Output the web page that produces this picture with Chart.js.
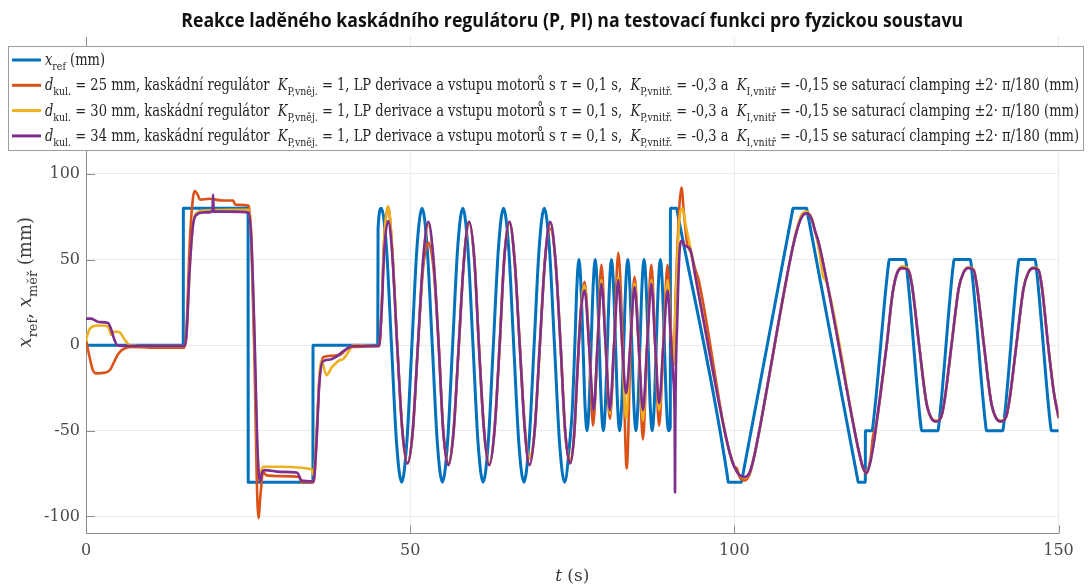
<!DOCTYPE html>
<html>
<head>
<meta charset="utf-8">
<script src="https://cdn.jsdelivr.net/npm/chart.js@4.4.1/dist/chart.umd.min.js"></script>
<style>
  html, body { margin: 0; padding: 0; background: #fff; }
  canvas { display: block; }
</style>
</head>
<body>
<canvas id="chart" width="1089" height="585"></canvas>
<script>
// ---- tick values ----
const timeTicks = [0, 50, 100, 150];
const posTicks = [-100, -50, 0, 50, 100, 150];

// ---- reference position x_ref [t (s), mm] ----
const xRef = [
  [0,0],[15.0,0],[15.02,80],[25.0,80],[25.02,-80],[35.0,-80],[35.02,0],[45.0,0],[45.05,68],
  [45.55,80],[46.34,57],[47.12,0],[47.9,-57],[48.69,-80],[49.48,-57],[50.27,0],[51.05,57],
  [51.84,80],[52.62,57],[53.41,0],[54.19,-57],[54.98,-80],[55.76,-57],[56.55,0],[57.33,57],
  [58.12,80],[58.9,57],[59.69,0],[60.47,-57],[61.26,-80],[62.04,-57],[62.83,0],[63.62,57],
  [64.4,80],[65.19,57],[65.97,0],[66.76,-57],[67.54,-80],[68.33,-57],[69.12,0],[69.9,57],
  [70.69,80],[71.47,57],[72.26,0],[73.04,-57],[73.83,-80],[74.61,-57],[75.0,-38],[75.4,0],
  [75.72,35],[76.03,50],[76.34,35],[76.66,0],[76.97,-35],[77.28,-50],[77.6,-35],[77.91,0],
  [78.23,35],[78.54,50],[78.85,35],[79.17,0],[79.48,-35],[79.8,-50],[80.11,-35],[80.42,0],
  [80.74,35],[81.05,50],[81.36,35],[81.68,0],[81.99,-35],[82.31,-50],[82.62,-35],[82.94,0],
  [83.25,35],[83.57,50],[83.88,35],[84.19,0],[84.51,-35],[84.82,-50],[85.13,-35],[85.45,0],
  [85.76,35],[86.08,50],[86.39,35],[86.71,0],[87.02,-35],[87.33,-50],[87.65,-35],[87.96,0],
  [88.28,35],[88.59,50],[88.9,35],[89.22,0],[89.53,-35],[89.85,-50],[90.12,-48],[90.15,80],
  [91.1,80],[91.2,78],[98.95,-77],[99.05,-80],[101.1,-80],[101.2,-78],[108.95,78],[109.05,80],
  [111.15,80],[111.25,78],[119.0,-78],[119.1,-80],[120.2,-80],[120.22,-50],[121.25,-50],
  [121.35,-48],[123.8,48],[123.9,50],[126.4,50],[126.5,48],[128.8,-48],[128.9,-50],[131.4,-50],
  [131.5,-48],[133.8,48],[133.9,50],[136.4,50],[136.5,48],[138.8,-48],[138.9,-50],[141.4,-50],
  [141.5,-48],[143.8,48],[143.9,50],[146.4,50],[146.5,48],[148.8,-48],[148.9,-50],[150,-50]
];

// ---- measured position, ball diameter 25 mm ----
const d25 = [
  [0,3],[0.5,-6],[1.0,-14],[1.5,-16.5],[3.0,-16],[3.7,-14.5],[4.3,-10],[5.0,-5],[5.7,-2.5],
  [6.9,-1],[10,-1.5],[15.2,-1.5],[15.5,10],[16.0,60],[16.5,86],[16.8,90],[17.2,88],[17.6,85],
  [19,85.5],[21,84.5],[22.7,84.5],[23.0,82],[25.1,81.5],[25.5,62],[26.0,-10],[26.3,-72],
  [26.6,-101],[26.9,-88],[27.3,-74],[27.8,-76],[30,-76.5],[33,-77],[33.2,-80],[35.1,-80],
  [35.5,-60],[36.0,-20],[36.6,-7],[38.9,-6],[40.0,-3],[40.8,-1],[45.2,-0.5],[45.6,22],
  [46.0,62],[46.6,81],[47.2,58],[48.0,0],[48.8,-50],[49.6,-69],[50.4,-50],[51.2,0],[52.0,45],
  [52.8,60],[53.6,45],[54.4,0],[55.1,-50],[55.9,-70],[56.7,-50],[57.5,0],[58.3,50],[59.1,72],
  [59.9,50],[60.6,0],[61.4,-50],[62.2,-70],[63.0,-50],[63.8,0],[64.5,50],[65.3,72],[66.1,50],
  [66.9,0],[67.7,-50],[68.4,-70],[69.2,-50],[70.0,0],[70.8,50],[71.6,68],[72.4,50],[73.2,0],
  [73.9,-50],[74.7,-69],[75.3,-52],[75.8,-15],[76.3,20],[76.9,37],[77.6,0],[78.2,-47],[78.9,0],
  [79.5,47],[80.15,0],[80.8,-43],[81.45,0],[82.1,54],[82.8,0],[83.4,-72],[84.0,0],[84.6,40],
  [85.25,0],[85.9,-55],[86.55,0],[87.2,47],[87.8,0],[88.4,-47],[89.05,0],[89.7,47],[90.2,10],
  [90.6,-12],[91.0,35],[91.5,80],[91.85,92],[92.2,78],[92.7,60],[93.3,54],[94.0,44],[94.5,38],
  [98.5,-50],[99.3,-63],[100.0,-71],[100.4,-72],[100.8,-77],[101.6,-79],[102.4,-75],[103.0,-66],
  [103.6,-55],[109.0,57],[109.8,69],[110.5,76],[111.2,77],[111.9,74],[112.5,66],[113.0,60],
  [118.5,-49],[119.2,-62],[119.8,-71],[120.4,-75],[121.0,-66],[121.4,-53],[121.8,-48],
  [122.3,-36],[123.5,0],[124.4,30],[125.1,42],[125.9,45],[126.8,44],[127.4,35],[128.5,0],
  [129.6,-33],[130.3,-42],[131.1,-44.5],[131.9,-42],[132.4,-33],[133.5,0],[134.6,33],[135.3,42],
  [136.1,45.5],[136.9,44],[137.4,35],[138.5,0],[139.6,-33],[140.3,-42],[141.1,-44.5],[141.9,-42],
  [142.4,-33],[143.5,0],[144.6,33],[145.3,42],[146.1,45],[146.9,44],[147.4,35],[148.4,0],
  [149.3,-28],[150,-42]
];

// ---- measured position, ball diameter 30 mm ----
const d30 = [
  [0,3],[0.5,9],[1.1,11],[2.0,11.5],[3.4,11],[3.9,6],[4.4,8],[5.2,7.5],[6.0,3],[6.8,0],
  [10,-0.5],[15.2,-0.5],[15.5,5],[16.0,45],[16.5,70],[17.0,77],[18.0,78.5],[22.0,79],[25.1,79],
  [25.5,62],[26.0,2],[26.4,-58],[26.8,-76],[27.3,-71],[30.0,-71],[34.8,-72.5],[35.1,-76],
  [35.5,-55],[36.0,-18],[36.3,-9],[37.1,-17.5],[37.9,-13],[39.0,-9],[39.7,-8],[40.8,-2],
  [41.2,0],[45.2,-0.5],[45.6,22],[46.0,62],[46.6,81],[47.2,58],[48.0,0],[48.8,-50],[49.6,-69],
  [50.4,-50],[51.2,0],[52.0,50],[52.8,70],[53.6,50],[54.4,0],[55.1,-50],[55.9,-69],[56.7,-50],
  [57.5,0],[58.3,50],[59.1,71],[59.9,50],[60.6,0],[61.4,-50],[62.2,-69],[63.0,-50],[63.8,0],
  [64.5,50],[65.3,71],[66.1,50],[66.9,0],[67.7,-48],[68.4,-66],[69.2,-50],[70.0,0],[70.8,50],
  [71.6,71],[72.4,50],[73.2,0],[73.9,-50],[74.7,-67],[75.3,-52],[75.8,-15],[76.3,18],[76.9,35],
  [77.6,0],[78.3,-38],[78.9,0],[79.5,38],[80.15,0],[80.8,-40],[81.45,0],[82.1,40],[82.7,0],
  [83.3,-43],[83.95,0],[84.6,36],[85.25,0],[85.9,-44],[86.55,0],[87.2,38],[87.8,0],[88.4,-38],
  [89.05,0],[89.7,38],[90.2,5],[90.6,-12],[91.0,30],[91.5,72],[92.0,80],[92.5,70],[93.2,57],
  [94.0,40],[98.5,-50],[99.3,-63],[100.0,-71],[100.8,-76],[101.6,-77.5],[102.4,-74],[103.0,-66],
  [103.6,-55],[109.0,57],[109.8,70],[110.5,77],[111.2,78],[111.9,74],[112.5,66],[113.0,57],
  [113.4,47],[113.7,40],[114.2,37],[118.5,-49],[119.2,-62],[119.8,-71],[120.4,-74],[121.0,-67],
  [121.6,-55],[122.2,-38],[123.5,0],[124.4,30],[125.1,42],[125.9,46],[126.8,44.5],[127.4,35],
  [128.5,0],[129.6,-33],[130.3,-42],[131.1,-44],[131.9,-42],[132.4,-33],[133.5,0],[134.6,33],
  [135.3,42],[136.1,45.5],[136.9,44],[137.4,35],[138.5,0],[139.6,-33],[140.3,-42],[141.1,-44],
  [141.9,-42],[142.4,-33],[143.5,0],[144.6,33],[145.3,42],[146.1,45.5],[146.9,44],[147.4,35],
  [148.4,0],[149.3,-28],[150,-42]
];

// ---- measured position, ball diameter 34 mm ----
const d34 = [
  [0,15.5],[0.8,15.5],[1.4,14.5],[2.0,13.5],[3.4,13],[3.9,9],[4.4,3],[4.8,0],[5.5,-0.5],
  [10,-0.5],[15.2,-0.5],[15.5,6],[16.0,45],[16.5,70],[17.0,76],[18.0,77.5],[19.5,78],[19.6,88],
  [19.7,78],[22,78],[25.1,77.5],[25.5,62],[26.0,5],[26.4,-55],[26.8,-79.5],[27.2,-74],[27.6,-73],
  [30,-74],[32.6,-74.5],[33.2,-79],[35.1,-79.5],[35.5,-60],[36.0,-22],[36.5,-9.5],[37.5,-8.5],
  [38.5,-7],[39.5,-4],[40.5,-1.5],[41.3,-0.5],[45.2,-0.5],[45.6,20],[46.0,55],[46.6,72.5],
  [47.2,55],[48.0,0],[48.8,-50],[49.6,-69],[50.4,-50],[51.2,0],[52.0,50],[52.8,72],[53.6,50],
  [54.4,0],[55.1,-50],[55.9,-70],[56.7,-50],[57.5,0],[58.3,50],[59.1,72],[59.9,50],[60.6,0],
  [61.4,-50],[62.2,-70],[63.0,-50],[63.8,0],[64.5,50],[65.3,72],[66.1,50],[66.9,0],[67.7,-50],
  [68.4,-70],[69.2,-50],[70.0,0],[70.8,50],[71.6,72],[72.4,50],[73.2,0],[73.9,-50],[74.7,-69],
  [75.3,-52],[75.8,-15],[76.3,18],[76.9,32],[77.6,0],[78.3,-38],[78.9,0],[79.5,36],[80.15,0],
  [80.8,-38],[81.45,0],[82.1,38],[82.7,0],[83.3,-28],[83.95,0],[84.6,34],[85.25,0],[85.9,-38],
  [86.55,0],[87.2,36],[87.8,0],[88.4,-34],[89.05,0],[89.7,32],[90.2,5],[90.6,-20],[90.8,-45],
  [90.85,-86],[90.9,-45],[91.2,15],[91.6,57],[91.9,61],[92.4,58],[93.2,56],[94.0,40],[98.5,-50],
  [99.3,-63],[100.0,-71],[100.8,-76],[101.6,-77],[102.4,-74],[103.0,-66],[103.6,-55],[109.0,57],
  [109.8,69],[110.5,75.5],[111.2,77],[111.9,74],[112.5,66],[113.0,60],[118.5,-49],[119.2,-62],
  [119.8,-71],[120.4,-74.5],[121.0,-68],[121.6,-55],[122.2,-38],[123.5,0],[124.4,30],[125.1,42],
  [125.9,45],[126.8,44],[127.4,35],[128.5,0],[129.6,-33],[130.3,-42],[131.1,-44.5],[131.9,-42],
  [132.4,-33],[133.5,0],[134.6,33],[135.3,42],[136.1,45],[136.9,44],[137.4,35],[138.5,0],
  [139.6,-33],[140.3,-42],[141.1,-44.5],[141.9,-42],[142.4,-33],[143.5,0],[144.6,33],[145.3,42],
  [146.1,45],[146.9,44],[147.4,35],[148.4,0],[149.3,-28],[150,-42]
];

// ---- styling ----
const SERIF = '"DejaVu Serif", "Liberation Serif", serif';
const TITLE_FONT = '"Liberation Sans Narrow", "Open Sans", "Liberation Sans", sans-serif';
const COLORS = { ref: '#0072BD', d25: '#D95319', d30: '#EDB120', d34: '#7E2F8E' };

const titleText = 'Reakce laděného kaskádního regulátoru (P, PI) na testovací funkci pro fyzickou soustavu';

function ballRow(d) {
  return [
    ['i', 'd'], ['sub', 'kul.'], ['n', ' = ' + d + ' mm, kaskádní regulátor  '],
    ['i', 'K'], ['sub', 'P,vněj.'], ['n', ' = 1, LP derivace a vstupu motorů s '],
    ['i', 'τ'], ['n', ' = 0,1 s,  '],
    ['i', 'K'], ['sub', 'P,vnitř.'], ['n', ' = -0,3 a  '],
    ['i', 'K'], ['sub', 'I,vnitř'], ['n', ' = -0,15 se saturací clamping ±2· π/180 (mm)']
  ];
}
const legendRows = [
  { color: COLORS.ref, runs: [['i', 'x'], ['sub', 'ref'], ['n', ' (mm)']] },
  { color: COLORS.d25, runs: ballRow(25) },
  { color: COLORS.d30, runs: ballRow(30) },
  { color: COLORS.d34, runs: ballRow(34) }
];
const yTitleRuns = [['i', 'x'], ['sub', 'ref'], ['n', ', '], ['i', 'x'], ['sub', 'měř'], ['n', ' (mm)']];
const xTitleRuns = [['i', 't'], ['n', ' (s)']];

// ---- rich text helpers (italic / subscript runs) ----
function runFont(style, size, family) {
  if (style === 'sub') return (size * 0.72).toFixed(2) + 'px ' + family;
  if (style === 'i') return 'italic ' + size + 'px ' + family;
  if (style === 'b') return 'bold ' + size + 'px ' + family;
  return size + 'px ' + family;
}
function runsWidth(ctx, runs, size, family) {
  let w = 0;
  for (const [style, text] of runs) {
    ctx.font = runFont(style, size, family);
    w += ctx.measureText(text).width;
  }
  return w;
}
function drawRuns(ctx, runs, x, y, size, family, color) {
  ctx.fillStyle = color;
  ctx.textBaseline = 'alphabetic';
  ctx.textAlign = 'left';
  let cx = x;
  for (const [style, text] of runs) {
    ctx.font = runFont(style, size, family);
    const dy = style === 'sub' ? size * 0.32 : 0;
    ctx.fillText(text, cx, y + dy);
    cx += ctx.measureText(text).width;
  }
}

// ---- axis frame ticks, title, axis titles and legend ----
const decorations = {
  id: 'decorations',
  beforeDraw(chart) {
    const ctx = chart.ctx;
    ctx.save();
    ctx.fillStyle = '#ffffff';
    ctx.fillRect(0, 0, chart.width, chart.height);
    ctx.restore();
  },
  beforeDatasetsDraw(chart) {
    const { ctx, chartArea: a, scales } = chart;
    ctx.save();
    ctx.strokeStyle = '#8c8c8c';
    ctx.lineWidth = 1;
    ctx.beginPath();
    for (const v of posTicks) {
      const py = Math.round(scales.y.getPixelForValue(v)) + 0.5;
      ctx.moveTo(a.left, py); ctx.lineTo(a.left + 9, py);
    }
    for (const v of timeTicks) {
      const px = Math.round(scales.x.getPixelForValue(v)) + 0.5;
      ctx.moveTo(px, a.bottom); ctx.lineTo(px, a.bottom - 8);
    }
    ctx.stroke();
    ctx.restore();
  },
  afterDraw(chart) {
    const { ctx, chartArea: a } = chart;
    ctx.save();

    // title
    ctx.font = 'bold 19px ' + TITLE_FONT;
    const tw = ctx.measureText(titleText).width;
    const tTarget = 782;
    ctx.save();
    ctx.translate((a.left + a.right) / 2 - tTarget / 2, 27);
    ctx.scale(tTarget / tw, 1);
    ctx.fillStyle = '#111';
    ctx.textAlign = 'left';
    ctx.textBaseline = 'alphabetic';
    ctx.fillText(titleText, 0, 0);
    ctx.restore();

    // y axis title
    const ySize = 18;
    const yw = runsWidth(ctx, yTitleRuns, ySize, SERIF);
    ctx.save();
    ctx.translate(31, (a.top + a.bottom) / 2 - 3);
    ctx.rotate(-Math.PI / 2);
    drawRuns(ctx, yTitleRuns, -yw / 2, 0, ySize, SERIF, '#3a3a3a');
    ctx.restore();

    // x axis title
    const xSize = 17;
    const xw = runsWidth(ctx, xTitleRuns, xSize, SERIF);
    drawRuns(ctx, xTitleRuns, (a.left + a.right) / 2 - xw / 2, 581, xSize, SERIF, '#3a3a3a');

    // legend box
    const bx = 8.5, by = 46.5, bw = 1075, bh = 104;
    ctx.fillStyle = '#ffffff';
    ctx.fillRect(bx, by, bw, bh);
    ctx.strokeStyle = '#9e9e9e';
    ctx.lineWidth = 1;
    ctx.strokeRect(bx, by, bw, bh);

    const lSize = 16;
    const fullW = runsWidth(ctx, legendRows[1].runs, lSize, SERIF);
    const sx = 1034 / fullW;
    legendRows.forEach((row, i) => {
      const cy = 60 + i * 25.3;
      ctx.strokeStyle = row.color;
      ctx.lineWidth = 3;
      ctx.lineCap = 'butt';
      ctx.beginPath();
      ctx.moveTo(12, cy); ctx.lineTo(41, cy);
      ctx.stroke();
      ctx.save();
      ctx.translate(45, cy + 5);
      ctx.scale(sx, 1);
      drawRuns(ctx, row.runs, 0, 0, lSize, SERIF, '#262626');
      ctx.restore();
    });
    ctx.restore();
  }
};

const toPoints = arr => arr.map(([x, y]) => ({ x, y }));
function series(data, color, width, order) {
  return {
    data: toPoints(data),
    borderColor: color,
    backgroundColor: color,
    borderWidth: width,
    pointRadius: 0,
    pointHoverRadius: 0,
    fill: false,
    cubicInterpolationMode: 'monotone',
    borderJoinStyle: 'round',
    borderCapStyle: 'round',
    order
  };
}

new Chart(document.getElementById('chart').getContext('2d'), {
  type: 'line',
  data: {
    datasets: [
      series(xRef, COLORS.ref, 3, 3),
      series(d25, COLORS.d25, 2.6, 2),
      series(d30, COLORS.d30, 2.6, 1),
      series(d34, COLORS.d34, 2.6, 0)
    ]
  },
  options: {
    responsive: false,
    animation: false,
    devicePixelRatio: 1,
    events: [],
    layout: { padding: { top: 37, right: 30.5, left: 0, bottom: 0 } },
    plugins: { legend: { display: false }, tooltip: { enabled: false }, title: { display: false } },
    scales: {
      x: {
        type: 'linear',
        min: 0, max: 150,
        afterBuildTicks: axis => { axis.ticks = timeTicks.map(v => ({ value: v })); },
        afterFit: scale => { scale.height = 51.5; },
        grid: { color: '#ebebeb', lineWidth: 1, drawTicks: false },
        border: { color: '#8c8c8c', width: 1 },
        ticks: { padding: 8, autoSkip: false, maxRotation: 0, color: '#4a4a4a',
                 font: { family: SERIF, size: 16 } }
      },
      y: {
        type: 'linear',
        min: -110, max: 180,
        afterBuildTicks: axis => { axis.ticks = posTicks.map(v => ({ value: v })); },
        afterFit: scale => { scale.width = 86; },
        grid: { color: '#ebebeb', lineWidth: 1, drawTicks: false },
        border: { color: '#8c8c8c', width: 1 },
        ticks: { padding: 6, color: '#4a4a4a', font: { family: SERIF, size: 16 } }
      }
    }
  },
  plugins: [decorations]
});
</script>
</body>
</html>
